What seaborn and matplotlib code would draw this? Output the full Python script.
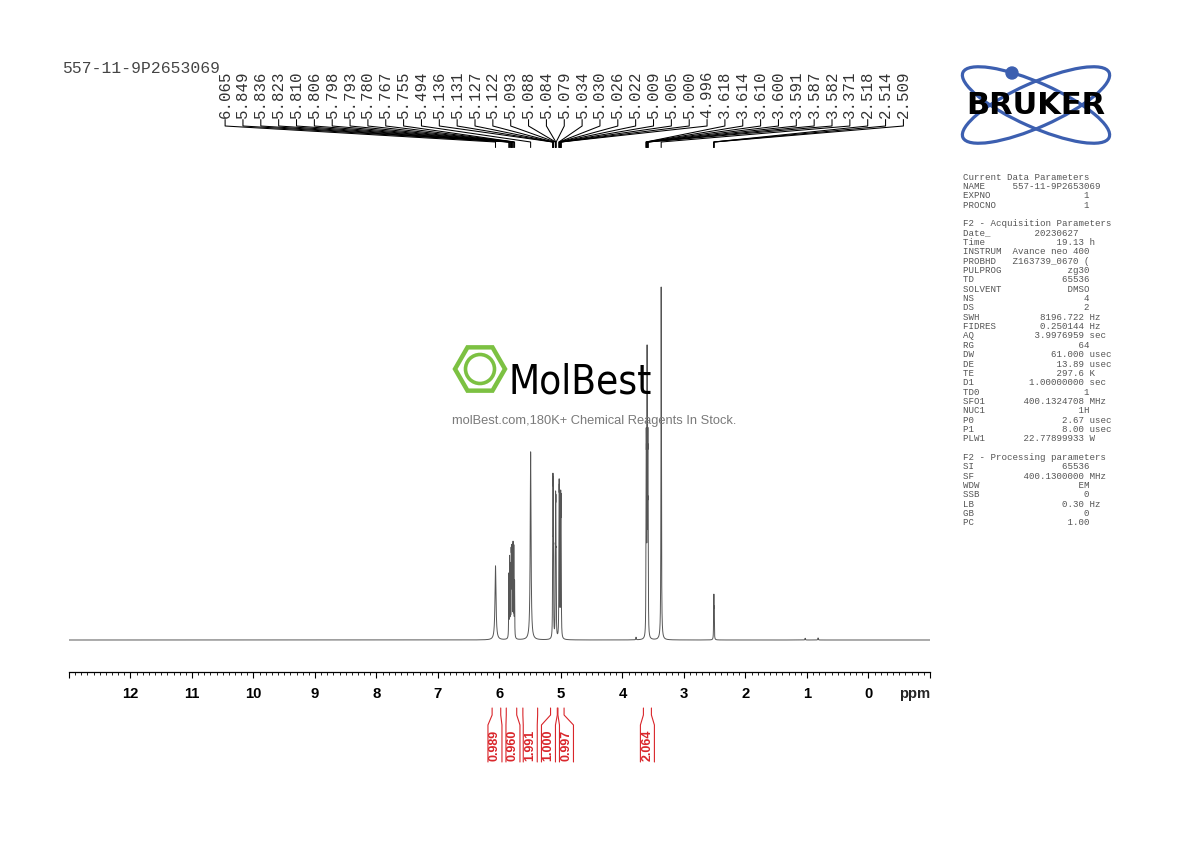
import numpy as np
import matplotlib
matplotlib.use("Agg")
import matplotlib.pyplot as plt
import matplotlib.patches as mpatches
from matplotlib import font_manager
from matplotlib.transforms import blended_transform_factory
import seaborn as sns

W, H = 1190, 842

sample_name = "557-11-9P2653069"

# picked peaks (ppm) with apparent heights (% of the tallest line) and half widths (ppm)
peak_ppm = [6.065, 5.849, 5.836, 5.823, 5.810, 5.806, 5.798, 5.793, 5.780, 5.767, 5.755,
            5.494, 5.136, 5.131, 5.127, 5.122, 5.093, 5.088, 5.084, 5.079,
            5.034, 5.030, 5.026, 5.022, 5.009, 5.005, 5.000, 4.996,
            3.618, 3.614, 3.610, 3.600, 3.591, 3.587, 3.582, 3.371,
            2.518, 2.514, 2.509]
peak_height = [21.0, 19, 24, 22, 26, 26, 27, 27, 28, 27, 17,
               53.3, 30, 47, 46, 29, 27, 42, 41, 26,
               29, 45.5, 44, 28, 27, 42.5, 41.5, 26,
               40, 60, 55, 83.6, 55, 60, 40, 100,
               9, 13, 9.5]
peak_width = [0.010] + [0.0025] * 10 + [0.008] + [0.0025] * 16 + [0.0025] * 7 + [0.004] + [0.0025] * 3

# small unlabelled signals
minor_ppm = [3.78, 3.42, 1.03, 0.82]
minor_height = [0.8, 0.8, 0.5, 0.6]
minor_width = [0.004, 0.004, 0.004, 0.004]

# integrals
integral_ranges = [(6.12, 5.98), (5.89, 5.72), (5.62, 5.38), (5.17, 5.06), (5.05, 4.95), (3.66, 3.53)]
integral_values = ["0.989", "0.960", "1.991", "1.000", "0.997", "2.064"]

# acquisition / processing parameters
current_params = [("NAME", sample_name), ("EXPNO", "1"), ("PROCNO", "1")]
acq_params = [("Date_", "20230627  ", ""), ("Time", "19.13", "h"), ("INSTRUM", "Avance neo 400", ""),
              ("PROBHD", "Z163739_0670 (", ""), ("PULPROG", "zg30", ""), ("TD", "65536", ""),
              ("SOLVENT", "DMSO", ""), ("NS", "4", ""), ("DS", "2", ""),
              ("SWH", "8196.722", "Hz"), ("FIDRES", "0.250144", "Hz"), ("AQ", "3.9976959", "sec"),
              ("RG", "64", ""), ("DW", "61.000", "usec"), ("DE", "13.89", "usec"),
              ("TE", "297.6", "K"), ("D1", "1.00000000", "sec"), ("TD0", "1", ""),
              ("SFO1", "400.1324708", "MHz"), ("NUC1", "1H", ""), ("P0", "2.67", "usec"),
              ("P1", "8.00", "usec"), ("PLW1", "22.77899933", "W")]
proc_params = [("SI", "65536", ""), ("SF", "400.1300000", "MHz"), ("WDW", "EM", ""),
               ("SSB", "0", ""), ("LB", "0.30", "Hz"), ("GB", "0", ""), ("PC", "1.00", "")]

sns.set_style("white")
plt.rcParams["font.family"] = ["Liberation Sans", "DejaVu Sans"]
available = {f.name for f in font_manager.fontManager.ttflist}
mono = "Liberation Mono" if "Liberation Mono" in available else "DejaVu Sans Mono"


def fx(px):
    return px / W


def fy(py):
    return 1 - py / H


def inch(px, py):
    return (px / 100, (H - py) / 100)


fig = plt.figure(figsize=(W / 100, H / 100), dpi=100)
fig.patch.set_facecolor("white")
ax = fig.add_axes([fx(69), fy(672), fx(930) - fx(69), fy(150) - fy(672)])

# spectrum built from the peak table (Lorentzian lines)
ppm_axis = np.linspace(13.0, -1.0, 70001)
all_ppm = np.array(peak_ppm + minor_ppm)
all_h = np.array(peak_height + minor_height, float)
all_w = np.array(peak_width + minor_width)


def lorentz(x, x0, w):
    return w ** 2 / ((x - x0) ** 2 + w ** 2)


A = lorentz(all_ppm[:, None], all_ppm[None, :], all_w[None, :])
amp = np.clip(np.linalg.solve(A, all_h), 0, None)
spectrum = (amp[None, :] * lorentz(ppm_axis[:, None], all_ppm[None, :], all_w[None, :])).sum(axis=1)

sns.lineplot(x=ppm_axis, y=spectrum, ax=ax, color="#555555", linewidth=0.7,
             estimator=None, sort=False)

px_per_pct = 3.53
ax.set_xlim(13, -1)
ax.set_ylim(-32 / px_per_pct, (672 - 150 - 32) / px_per_pct)
ax.set_yticks([])
ax.set_xlabel("")
ax.set_ylabel("")
for s in ["top", "left", "right"]:
    ax.spines[s].set_visible(False)
ax.spines["bottom"].set_linewidth(0.9)
ax.spines["bottom"].set_color("black")

major = np.arange(13, -2, -1)
ax.set_xticks(major)
ax.set_xticklabels(["" if t in (13, -1) else str(t) for t in major],
                   fontweight="bold", fontsize=10.7)
ax.set_xticks(np.arange(-10, 131) / 10, minor=True)
ax.tick_params(axis="x", which="both", bottom=True, top=False)
ax.tick_params(axis="x", which="major", direction="out", length=4.3, width=0.8, pad=6.5, colors="black")
ax.tick_params(axis="x", which="minor", direction="out", length=2.2, width=0.6, colors="black")

trans = blended_transform_factory(ax.transData, fig.transFigure)
ax.text(1.0, fy(698.3), "ppm", transform=blended_transform_factory(ax.transAxes, fig.transFigure),
        ha="right", va="baseline", fontsize=10.7, fontweight="bold")

ppm_per_px = 14 / 861

# peak label tree
n = len(peak_ppm)
spacing = 17.85 * ppm_per_px
center = 4.947
label_ppm = center + spacing * ((n - 1) / 2 - np.arange(n))
for lx, p in zip(label_ppm, peak_ppm):
    ax.plot([lx, lx, p, p], [fy(119.5), fy(126), fy(142), fy(147.5)], transform=trans,
            clip_on=False, color="black", lw=0.75)
    ax.text(lx, fy(118.5), f"{p:.3f}", rotation=90, ha="center", va="bottom", transform=trans,
            family=mono, fontsize=11.3, color="#333333")

# integrals
red = "#d9262b"
centers = [(a + b) / 2 for a, b in integral_ranges]
gap = 18 * ppm_per_px
groups = [[0]]
for i in range(1, len(centers)):
    if centers[i - 1] - centers[i] < gap:
        groups[-1].append(i)
    else:
        groups.append([i])
label_pos = [0.0] * len(centers)
for g in groups:
    mid = np.mean([centers[i] for i in g])
    for k, i in enumerate(g):
        label_pos[i] = mid + gap * ((len(g) - 1) / 2 - k)
hw = 7 * ppm_per_px
ys = [fy(708), fy(715), fy(725), fy(762)]
for (a, b), L, val in zip(integral_ranges, label_pos, integral_values):
    ax.plot([a, a, L + hw, L + hw], ys, transform=trans, clip_on=False, color=red, lw=0.8)
    ax.plot([b, b, L - hw, L - hw], ys, transform=trans, clip_on=False, color=red, lw=0.8)
    ax.text(L, fy(745), val, rotation=90, ha="center", va="center", transform=trans,
            color=red, fontweight="bold", fontsize=9)

# sample name
fig.text(fx(62), fy(73), sample_name, family=mono, fontsize=11.8, color="#444444", va="baseline")

# parameter listing
def fmt(key, val, unit=""):
    if unit:
        return f"{key:<8}{val:>14} {unit}"
    return f"{key:<8}{val:>{max(15, len(val) + 1)}}"


lines = ["Current Data Parameters"] + [fmt(k, v) for k, v in current_params] + [None]
lines += ["F2 - Acquisition Parameters"] + [fmt(*p) for p in acq_params] + [None]
lines += ["F2 - Processing parameters"] + [fmt(*p) for p in proc_params]
y = 177.0
for ln in lines:
    if ln is None:
        y += 9.35
        continue
    fig.text(fx(963), fy(y), ln, family=mono, fontsize=6.6, color="#555555", va="center")
    y += 9.35

# MolBest watermark
green = "#7cc142"
fig.add_artist(mpatches.RegularPolygon(inch(480, 369), numVertices=6, radius=0.25,
                                       orientation=np.pi / 6, fill=False, edgecolor=green,
                                       lw=3.2, transform=fig.dpi_scale_trans))
fig.add_artist(mpatches.Circle(inch(480, 369), 0.145, fill=False, edgecolor=green,
                               lw=2.6, transform=fig.dpi_scale_trans))
if "Liberation Sans Narrow" in available:
    fig.text(fx(509), fy(393), "MolBest", family="Liberation Sans Narrow", fontsize=37,
             color="black", va="baseline")
else:
    fig.text(fx(509), fy(394), "MolBest", family="DejaVu Sans", fontstretch="condensed",
             fontsize=29, color="black", va="baseline")
fig.text(fx(594), fy(421), "molBest.com,180K+ Chemical Reagents In Stock.", ha="center",
         va="center", fontsize=9.3, color="#7a7a7a")

# Bruker logo
blue = "#3c5fb0"
for ang in (-24, 24):
    fig.add_artist(mpatches.Ellipse(inch(1036, 105), 1.60, 0.44, angle=ang, fill=False,
                                    edgecolor=blue, lw=2.3, transform=fig.dpi_scale_trans))
fig.add_artist(mpatches.Circle(inch(1012, 73), 0.06, color=blue, transform=fig.dpi_scale_trans))
fig.text(fx(1036), fy(106), "BRUKER", ha="center", va="center", fontsize=22,
         fontweight="heavy", family="DejaVu Sans", color="black", zorder=5)

fig.savefig("out.png", dpi=100, facecolor="white")
